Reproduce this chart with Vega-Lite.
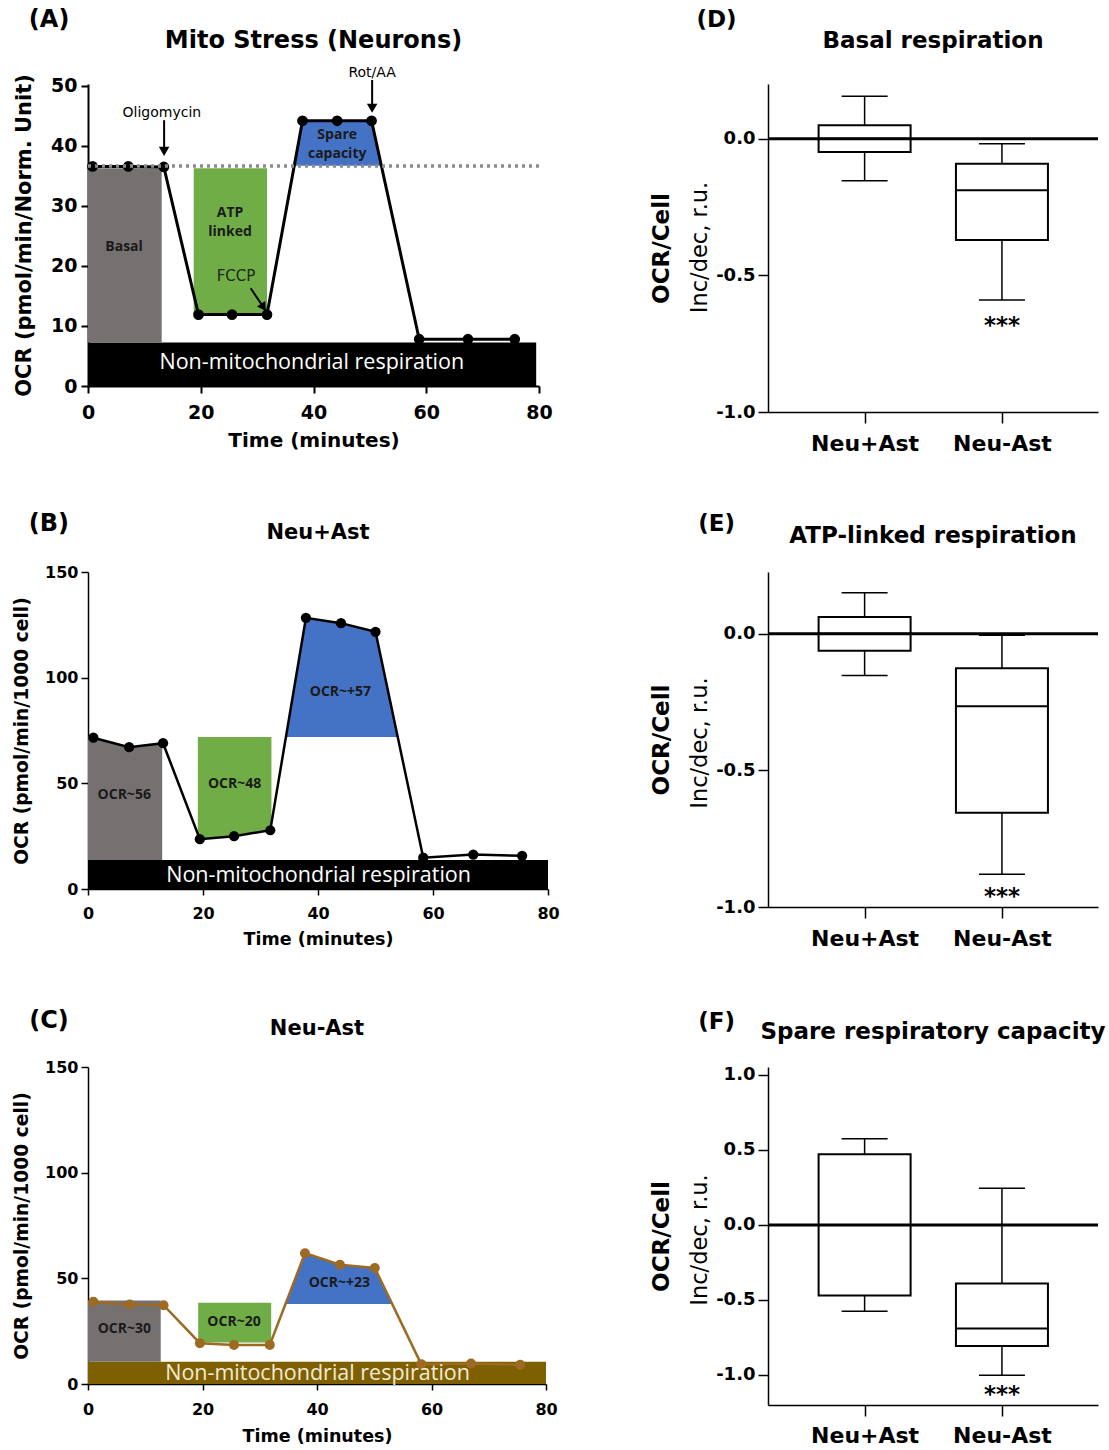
{
"$schema":"https://vega.github.io/schema/vega-lite/v6.json",
"background":"white",
"padding":{"left":12,"top":7,"right":5,"bottom":5},
"autosize":{"type":"pad"},
"config":{
  "view":{"stroke":null},
  "font":"DejaVu Sans",
  "axis":{"grid":false,"zindex":1,"labelFlush":false,"labelOverlap":false,"domainColor":"#000000","tickColor":"#000000","labelColor":"#000000","titleColor":"#000000","labelFont":"DejaVu Sans","titleFont":"DejaVu Sans","labelFontWeight":"bold","titleFontWeight":"bold"},
  "title":{"font":"DejaVu Sans","fontWeight":"bold","color":"#000000","frame":"group"}
},
"datasets":{
  "lineA":[{"time":0.8,"ocr":36.6},{"time":7.15,"ocr":36.6},{"time":13.45,"ocr":36.5},{"time":19.6,"ocr":11.9},{"time":25.55,"ocr":11.9},{"time":31.75,"ocr":11.9},{"time":38.05,"ocr":44.2},{"time":44.2,"ocr":44.2},{"time":50.3,"ocr":44.2},{"time":58.75,"ocr":7.8},{"time":67.4,"ocr":7.8},{"time":75.7,"ocr":7.8}],
  "lineB":[{"time":0.93,"ocr":71.6},{"time":7.15,"ocr":67.1},{"time":13.05,"ocr":69.0},{"time":19.45,"ocr":23.6},{"time":25.4,"ocr":25.0},{"time":31.7,"ocr":27.8},{"time":37.9,"ocr":128.3},{"time":44.0,"ocr":125.8},{"time":50.0,"ocr":121.7},{"time":58.3,"ocr":14.8},{"time":67.0,"ocr":16.3},{"time":75.5,"ocr":15.7}],
  "lineC":[{"time":0.93,"ocr":38.9},{"time":7.3,"ocr":37.6},{"time":13.2,"ocr":37.3},{"time":19.55,"ocr":19.3},{"time":25.5,"ocr":18.5},{"time":31.75,"ocr":18.5},{"time":37.9,"ocr":61.9},{"time":44.0,"ocr":56.4},{"time":50.1,"ocr":54.9},{"time":58.2,"ocr":9.4},{"time":66.9,"ocr":9.7},{"time":75.5,"ocr":9.1}],
  "boxD":[{"group":1,"name":"Neu+Ast","lower":-0.154,"q1":-0.049,"median":0,"q3":0.049,"upper":0.155},{"group":2,"name":"Neu-Ast","lower":-0.59,"q1":-0.371,"median":-0.189,"q3":-0.092,"upper":-0.019}],
  "boxE":[{"group":1,"name":"Neu+Ast","lower":-0.153,"q1":-0.062,"median":0,"q3":0.061,"upper":0.15},{"group":2,"name":"Neu-Ast","lower":-0.88,"q1":-0.655,"median":-0.265,"q3":-0.126,"upper":-0.006}],
  "boxF":[{"group":1,"name":"Neu+Ast","lower":-0.575,"q1":-0.47,"median":0,"q3":0.472,"upper":0.575},{"group":2,"name":"Neu-Ast","lower":-1.002,"q1":-0.806,"median":-0.69,"q3":-0.39,"upper":0.245}]
},
"columns":2,
"align":"each",
"bounds":"flush",
"spacing":{"row":160,"column":220},
"concat":[
{
 "width":451,"height":302,
 "title":{"text":"Mito Stress (Neurons)","fontSize":24,"offset":-45},
 "layer":[
  {"data":{"values":[{"start":0,"end":79.5,"low":0,"high":7.25}]},"mark":{"type":"rect","color":"#000000"},
   "encoding":{"x":{"field":"start","type":"quantitative","scale":{"domain":[0,80],"nice":false,"zero":false},"axis":{"title":"Time (minutes)","values":[0,20,40,60,80],"labelFontSize":19,"titleFontSize":20,"tickSize":7,"labelPadding":10,"titleY":54,"titleBaseline":"middle","domainWidth":2,"tickWidth":2}},"x2":{"field":"end"},
     "y":{"field":"low","type":"quantitative","scale":{"domain":[0,50.33],"nice":false,"zero":false},"axis":{"title":"OCR (pmol/min/Norm. Unit)","values":[0,10,20,30,40,50],"labelFontSize":19,"titleFontSize":21,"tickSize":7,"labelPadding":4,"titleX":-64,"titleBaseline":"middle","domainWidth":2,"tickWidth":2}},"y2":{"field":"high"}}},
  {"data":{"values":[{"start":0,"end":13.07,"low":7.25,"high":36.3}]},"mark":{"type":"rect","color":"#767171"},
   "encoding":{"x":{"field":"start","type":"quantitative","scale":{"domain":[0,80],"nice":false,"zero":false}},"x2":{"field":"end"},"y":{"field":"low","type":"quantitative","scale":{"domain":[0,50.33],"nice":false,"zero":false}},"y2":{"field":"high"}}},
  {"data":{"values":[{"start":18.75,"end":31.75,"low":11.9,"high":36.3}]},"mark":{"type":"rect","color":"#70AD47"},
   "encoding":{"x":{"field":"start","type":"quantitative","scale":{"domain":[0,80],"nice":false,"zero":false}},"x2":{"field":"end"},"y":{"field":"low","type":"quantitative","scale":{"domain":[0,50.33],"nice":false,"zero":false}},"y2":{"field":"high"}}},
  {"data":{"values":[{"time":36.6,"ocr":36.7,"base":36.7},{"time":38.05,"ocr":44.2,"base":36.7},{"time":44.2,"ocr":44.2,"base":36.7},{"time":50.3,"ocr":44.2,"base":36.7},{"time":52.0,"ocr":36.7,"base":36.7}]},"mark":{"type":"area","color":"#4472C4","opacity":1},
   "encoding":{"x":{"field":"time","type":"quantitative","scale":{"domain":[0,80],"nice":false,"zero":false}},"y":{"field":"ocr","type":"quantitative","scale":{"domain":[0,50.33],"nice":false,"zero":false}},"y2":{"field":"base"}}},
  {"data":{"name":"lineA"},"mark":{"type":"line","color":"#000000","strokeWidth":3},
   "encoding":{"x":{"field":"time","type":"quantitative","scale":{"domain":[0,80],"nice":false,"zero":false}},"y":{"field":"ocr","type":"quantitative","scale":{"domain":[0,50.33],"nice":false,"zero":false}}}},
  {"data":{"name":"lineA"},"mark":{"type":"point","filled":true,"color":"#000000","size":115,"opacity":1},
   "encoding":{"x":{"field":"time","type":"quantitative","scale":{"domain":[0,80],"nice":false,"zero":false}},"y":{"field":"ocr","type":"quantitative","scale":{"domain":[0,50.33],"nice":false,"zero":false}}}},
  {"data":{"values":[{"start":0,"end":80,"ocr":36.65}]},"mark":{"type":"rule","color":"#8C8C8C","strokeWidth":3.5,"strokeDash":[3,4]},
   "encoding":{"x":{"field":"start","type":"quantitative","scale":{"domain":[0,80],"nice":false,"zero":false}},"x2":{"field":"end"},"y":{"field":"ocr","type":"quantitative","scale":{"domain":[0,50.33],"nice":false,"zero":false}}}},
  {"data":{"values":[{"label":"Basal","time":6.4,"ocr":23.2},{"label":"ATP\nlinked","time":25.2,"ocr":28.8},{"label":"Spare\ncapacity","time":44.2,"ocr":41.8}]},"mark":{"type":"text","font":"Open Sans","fontWeight":"bold","fontSize":14,"color":"#1A1A1A","lineBreak":"\n","lineHeight":18.5,"baseline":"middle"},
   "encoding":{"x":{"field":"time","type":"quantitative","scale":{"domain":[0,80],"nice":false,"zero":false}},"y":{"field":"ocr","type":"quantitative","scale":{"domain":[0,50.33],"nice":false,"zero":false}},"text":{"field":"label"}}},
  {"data":{"values":[{"label":"Non-mitochondrial respiration","time":39.7,"ocr":3.75}]},"mark":{"type":"text","font":"Open Sans","fontSize":21.5,"color":"#FFFFFF","baseline":"middle"},
   "encoding":{"x":{"field":"time","type":"quantitative","scale":{"domain":[0,80],"nice":false,"zero":false}},"y":{"field":"ocr","type":"quantitative","scale":{"domain":[0,50.33],"nice":false,"zero":false}},"text":{"field":"label"}}},
  {"data":{"values":[{"time":13.5,"from":44.3,"to":39.2},{"time":50.4,"from":51.0,"to":46.4},{"time":28.86,"from":16.28,"time2":31.0,"to":13.3}]},"mark":{"type":"rule","color":"#000000","strokeWidth":2},
   "encoding":{"x":{"field":"time","type":"quantitative","scale":{"domain":[0,80],"nice":false,"zero":false}},"x2":{"field":"time2"},"y":{"field":"from","type":"quantitative","scale":{"domain":[0,50.33],"nice":false,"zero":false}},"y2":{"field":"to"}}},
  {"data":{"values":[{"time":13.5,"ocr":39.1},{"time":50.4,"ocr":46.3}]},"mark":{"type":"point","shape":"triangle-down","filled":true,"color":"#000000","size":110,"opacity":1},
   "encoding":{"x":{"field":"time","type":"quantitative","scale":{"domain":[0,80],"nice":false,"zero":false}},"y":{"field":"ocr","type":"quantitative","scale":{"domain":[0,50.33],"nice":false,"zero":false}}}},
  {"data":{"values":[{"time":31.13,"ocr":13.1}]},"mark":{"type":"point","shape":"triangle-down","filled":true,"color":"#000000","size":100,"opacity":1,"angle":326},
   "encoding":{"x":{"field":"time","type":"quantitative","scale":{"domain":[0,80],"nice":false,"zero":false}},"y":{"field":"ocr","type":"quantitative","scale":{"domain":[0,50.33],"nice":false,"zero":false}}}},
  {"data":{"values":[{"label":"Oligomycin","time":13.1,"ocr":45.5},{"label":"Rot/AA","time":50.4,"ocr":52.2}]},"mark":{"type":"text","font":"DejaVu Sans","fontSize":14,"color":"#000000","baseline":"middle"},
   "encoding":{"x":{"field":"time","type":"quantitative","scale":{"domain":[0,80],"nice":false,"zero":false}},"y":{"field":"ocr","type":"quantitative","scale":{"domain":[0,50.33],"nice":false,"zero":false}},"text":{"field":"label"}}},
  {"data":{"values":[{"label":"FCCP","time":26.25,"ocr":18.3}]},"mark":{"type":"text","font":"DejaVu Sans","fontSize":15,"color":"#1D2A14","baseline":"middle"},
   "encoding":{"x":{"field":"time","type":"quantitative","scale":{"domain":[0,80],"nice":false,"zero":false}},"y":{"field":"ocr","type":"quantitative","scale":{"domain":[0,50.33],"nice":false,"zero":false}},"text":{"field":"label"}}},
  {"data":{"values":[{"label":"(A)","time":-6.9,"ocr":61}]},"mark":{"type":"text","font":"DejaVu Sans","fontWeight":"bold","fontSize":24,"color":"#000000","baseline":"middle"},
   "encoding":{"x":{"field":"time","type":"quantitative","scale":{"domain":[0,80],"nice":false,"zero":false}},"y":{"field":"ocr","type":"quantitative","scale":{"domain":[0,50.33],"nice":false,"zero":false}},"text":{"field":"label"}}}
 ]
},
{
 "width":330,"height":328,
 "title":{"text":"Basal respiration","fontSize":23,"offset":-44},
 "data":{"name":"boxD"},
 "layer":[
  {"mark":{"type":"rule","color":"#000000","strokeWidth":1.5},
   "encoding":{"x":{"field":"group","type":"quantitative","scale":{"domain":[0.333,2.663],"nice":false,"zero":false},"axis":{"title":null,"values":[1,2],"labelExpr":"datum.value == 1 ? 'Neu+Ast' : 'Neu-Ast'","labelFontSize":22,"tickSize":11,"labelPadding":10,"domainWidth":1.5,"tickWidth":1.5}},
     "y":{"field":"lower","type":"quantitative","scale":{"domain":[-1,0.2],"nice":false,"zero":false},"axis":{"title":"OCR/Cell","values":[-1,-0.5,0],"labelExpr":"datum.value == 1 ? '1.0' : datum.value == 0.5 ? '0.5' : datum.value == 0 ? '0.0' : datum.value == -0.5 ? '-0.5' : '-1.0'","labelFontSize":18,"titleFontSize":23,"tickSize":10,"labelPadding":3,"titleX":-107,"titleBaseline":"middle","domainWidth":1.5,"tickWidth":1.5}},"y2":{"field":"upper"}}},
  {"mark":{"type":"bar","orient":"vertical","size":92,"fill":"#FFFFFF","stroke":"#000000","strokeWidth":2,"opacity":1},
   "encoding":{"x":{"field":"group","type":"quantitative","scale":{"domain":[0.333,2.663],"nice":false,"zero":false}},"y":{"field":"q1","type":"quantitative","scale":{"domain":[-1,0.2],"nice":false,"zero":false}},"y2":{"field":"q3"}}},
  {"mark":{"type":"tick","orient":"horizontal","size":92,"thickness":2,"color":"#000000","opacity":1},
   "encoding":{"x":{"field":"group","type":"quantitative","scale":{"domain":[0.333,2.663],"nice":false,"zero":false}},"y":{"field":"median","type":"quantitative","scale":{"domain":[-1,0.2],"nice":false,"zero":false}}}},
  {"mark":{"type":"tick","orient":"horizontal","size":46,"thickness":1.5,"color":"#000000","opacity":1},
   "encoding":{"x":{"field":"group","type":"quantitative","scale":{"domain":[0.333,2.663],"nice":false,"zero":false}},"y":{"field":"lower","type":"quantitative","scale":{"domain":[-1,0.2],"nice":false,"zero":false}}}},
  {"mark":{"type":"tick","orient":"horizontal","size":46,"thickness":1.5,"color":"#000000","opacity":1},
   "encoding":{"x":{"field":"group","type":"quantitative","scale":{"domain":[0.333,2.663],"nice":false,"zero":false}},"y":{"field":"upper","type":"quantitative","scale":{"domain":[-1,0.2],"nice":false,"zero":false}}}},
  {"data":{"values":[{"ocr":0}]},"mark":{"type":"rule","color":"#000000","strokeWidth":3},
   "encoding":{"y":{"field":"ocr","type":"quantitative","scale":{"domain":[-1,0.2],"nice":false,"zero":false}}}},
  {"data":{"values":[{"label":"***","cat":2,"value":-0.685},{"label":"(D)","cat":-0.078,"value":0.434}]},"mark":{"type":"text","font":"DejaVu Sans","fontWeight":"bold","fontSize":23,"color":"#000000","baseline":"middle"},
   "encoding":{"x":{"field":"cat","type":"quantitative","scale":{"domain":[0.333,2.663],"nice":false,"zero":false}},"y":{"field":"value","type":"quantitative","scale":{"domain":[-1,0.2],"nice":false,"zero":false}},"text":{"field":"label"}}},
  {"data":{"values":[{"label":"Inc/dec, r.u.","cat":-0.198,"value":-0.398}]},"mark":{"type":"text","font":"DejaVu Sans","fontSize":22.5,"color":"#000000","baseline":"middle","angle":270},
   "encoding":{"x":{"field":"cat","type":"quantitative","scale":{"domain":[0.333,2.663],"nice":false,"zero":false}},"y":{"field":"value","type":"quantitative","scale":{"domain":[-1,0.2],"nice":false,"zero":false}},"text":{"field":"label"}}}
 ]
},
{
 "width":460,"height":317,
 "title":{"text":"Neu+Ast","fontSize":21,"offset":-31},
 "layer":[
  {"data":{"values":[{"start":0,"end":80,"low":0,"high":13.7}]},"mark":{"type":"rect","color":"#000000"},
   "encoding":{"x":{"field":"start","type":"quantitative","scale":{"domain":[0,80],"nice":false,"zero":false},"axis":{"title":"Time (minutes)","values":[0,20,40,60,80],"labelFontSize":16,"titleFontSize":17.5,"tickSize":6,"labelPadding":10,"titleY":50,"titleBaseline":"middle","domainWidth":1.5,"tickWidth":1.5}},"x2":{"field":"end"},
     "y":{"field":"low","type":"quantitative","scale":{"domain":[0,150],"nice":false,"zero":false},"axis":{"title":"OCR (pmol/min/1000 cell)","values":[0,50,100,150],"labelFontSize":16,"titleFontSize":18.7,"tickSize":7,"labelPadding":3,"titleX":-67,"titleBaseline":"middle","domainWidth":1.5,"tickWidth":1.5}},"y2":{"field":"high"}}},
  {"data":{"values":[{"time":0,"ocr":72.3,"base":13.7},{"time":0.93,"ocr":71.6,"base":13.7},{"time":7.15,"ocr":67.1,"base":13.7},{"time":12.9,"ocr":68.9,"base":13.7}]},"mark":{"type":"area","color":"#767171","opacity":1},
   "encoding":{"x":{"field":"time","type":"quantitative","scale":{"domain":[0,80],"nice":false,"zero":false}},"y":{"field":"ocr","type":"quantitative","scale":{"domain":[0,150],"nice":false,"zero":false}},"y2":{"field":"base"}}},
  {"data":{"values":[{"time":19.1,"ocr":26.1,"top":71.9},{"time":19.45,"ocr":23.6,"top":71.9},{"time":25.4,"ocr":25.0,"top":71.9},{"time":31.7,"ocr":27.8,"top":71.9},{"time":31.9,"ocr":31.0,"top":71.9}]},"mark":{"type":"area","color":"#70AD47","opacity":1},
   "encoding":{"x":{"field":"time","type":"quantitative","scale":{"domain":[0,80],"nice":false,"zero":false}},"y":{"field":"ocr","type":"quantitative","scale":{"domain":[0,150],"nice":false,"zero":false}},"y2":{"field":"top"}}},
  {"data":{"values":[{"time":34.4,"ocr":71.9,"base":71.9},{"time":37.9,"ocr":128.3,"base":71.9},{"time":44.0,"ocr":125.8,"base":71.9},{"time":50.0,"ocr":121.7,"base":71.9},{"time":53.9,"ocr":71.9,"base":71.9}]},"mark":{"type":"area","color":"#4472C4","opacity":1},
   "encoding":{"x":{"field":"time","type":"quantitative","scale":{"domain":[0,80],"nice":false,"zero":false}},"y":{"field":"ocr","type":"quantitative","scale":{"domain":[0,150],"nice":false,"zero":false}},"y2":{"field":"base"}}},
  {"data":{"name":"lineB"},"mark":{"type":"line","color":"#000000","strokeWidth":2.5},
   "encoding":{"x":{"field":"time","type":"quantitative","scale":{"domain":[0,80],"nice":false,"zero":false}},"y":{"field":"ocr","type":"quantitative","scale":{"domain":[0,150],"nice":false,"zero":false}}}},
  {"data":{"name":"lineB"},"mark":{"type":"point","filled":true,"color":"#000000","size":105,"opacity":1},
   "encoding":{"x":{"field":"time","type":"quantitative","scale":{"domain":[0,80],"nice":false,"zero":false}},"y":{"field":"ocr","type":"quantitative","scale":{"domain":[0,150],"nice":false,"zero":false}}}},
  {"data":{"values":[{"label":"OCR~56","time":6.3,"ocr":44.6},{"label":"OCR~48","time":25.5,"ocr":49.5},{"label":"OCR~+57","time":43.9,"ocr":93.4}]},"mark":{"type":"text","font":"Open Sans","fontWeight":"bold","fontSize":14,"color":"#1A1A1A","baseline":"middle"},
   "encoding":{"x":{"field":"time","type":"quantitative","scale":{"domain":[0,80],"nice":false,"zero":false}},"y":{"field":"ocr","type":"quantitative","scale":{"domain":[0,150],"nice":false,"zero":false}},"text":{"field":"label"}}},
  {"data":{"values":[{"label":"Non-mitochondrial respiration","time":40.1,"ocr":6.2}]},"mark":{"type":"text","font":"Open Sans","fontSize":21.5,"color":"#FFFFFF","baseline":"middle"},
   "encoding":{"x":{"field":"time","type":"quantitative","scale":{"domain":[0,80],"nice":false,"zero":false}},"y":{"field":"ocr","type":"quantitative","scale":{"domain":[0,150],"nice":false,"zero":false}},"text":{"field":"label"}}},
  {"data":{"values":[{"label":"(B)","time":-6.8,"ocr":172.7}]},"mark":{"type":"text","font":"DejaVu Sans","fontWeight":"bold","fontSize":24,"color":"#000000","baseline":"middle"},
   "encoding":{"x":{"field":"time","type":"quantitative","scale":{"domain":[0,80],"nice":false,"zero":false}},"y":{"field":"ocr","type":"quantitative","scale":{"domain":[0,150],"nice":false,"zero":false}},"text":{"field":"label"}}}
 ]
},
{
 "width":330,"height":335,
 "title":{"text":"ATP-linked respiration","fontSize":23,"offset":-35},
 "data":{"name":"boxE"},
 "layer":[
  {"mark":{"type":"rule","color":"#000000","strokeWidth":1.5},
   "encoding":{"x":{"field":"group","type":"quantitative","scale":{"domain":[0.333,2.663],"nice":false,"zero":false},"axis":{"title":null,"values":[1,2],"labelExpr":"datum.value == 1 ? 'Neu+Ast' : 'Neu-Ast'","labelFontSize":22,"tickSize":11,"labelPadding":10,"domainWidth":1.5,"tickWidth":1.5}},
     "y":{"field":"lower","type":"quantitative","scale":{"domain":[-1,0.2258],"nice":false,"zero":false},"axis":{"title":"OCR/Cell","values":[-1,-0.5,0],"labelExpr":"datum.value == 1 ? '1.0' : datum.value == 0.5 ? '0.5' : datum.value == 0 ? '0.0' : datum.value == -0.5 ? '-0.5' : '-1.0'","labelFontSize":18,"titleFontSize":23,"tickSize":10,"labelPadding":3,"titleX":-107,"titleBaseline":"middle","domainWidth":1.5,"tickWidth":1.5}},"y2":{"field":"upper"}}},
  {"mark":{"type":"bar","orient":"vertical","size":92,"fill":"#FFFFFF","stroke":"#000000","strokeWidth":2,"opacity":1},
   "encoding":{"x":{"field":"group","type":"quantitative","scale":{"domain":[0.333,2.663],"nice":false,"zero":false}},"y":{"field":"q1","type":"quantitative","scale":{"domain":[-1,0.2258],"nice":false,"zero":false}},"y2":{"field":"q3"}}},
  {"mark":{"type":"tick","orient":"horizontal","size":92,"thickness":2,"color":"#000000","opacity":1},
   "encoding":{"x":{"field":"group","type":"quantitative","scale":{"domain":[0.333,2.663],"nice":false,"zero":false}},"y":{"field":"median","type":"quantitative","scale":{"domain":[-1,0.2258],"nice":false,"zero":false}}}},
  {"mark":{"type":"tick","orient":"horizontal","size":46,"thickness":1.5,"color":"#000000","opacity":1},
   "encoding":{"x":{"field":"group","type":"quantitative","scale":{"domain":[0.333,2.663],"nice":false,"zero":false}},"y":{"field":"lower","type":"quantitative","scale":{"domain":[-1,0.2258],"nice":false,"zero":false}}}},
  {"mark":{"type":"tick","orient":"horizontal","size":46,"thickness":1.5,"color":"#000000","opacity":1},
   "encoding":{"x":{"field":"group","type":"quantitative","scale":{"domain":[0.333,2.663],"nice":false,"zero":false}},"y":{"field":"upper","type":"quantitative","scale":{"domain":[-1,0.2258],"nice":false,"zero":false}}}},
  {"data":{"values":[{"ocr":0}]},"mark":{"type":"rule","color":"#000000","strokeWidth":3},
   "encoding":{"y":{"field":"ocr","type":"quantitative","scale":{"domain":[-1,0.2258],"nice":false,"zero":false}}}},
  {"data":{"values":[{"label":"***","cat":2,"value":-0.965},{"label":"(E)","cat":-0.078,"value":0.401}]},"mark":{"type":"text","font":"DejaVu Sans","fontWeight":"bold","fontSize":23,"color":"#000000","baseline":"middle"},
   "encoding":{"x":{"field":"cat","type":"quantitative","scale":{"domain":[0.333,2.663],"nice":false,"zero":false}},"y":{"field":"value","type":"quantitative","scale":{"domain":[-1,0.2258],"nice":false,"zero":false}},"text":{"field":"label"}}},
  {"data":{"values":[{"label":"Inc/dec, r.u.","cat":-0.198,"value":-0.4}]},"mark":{"type":"text","font":"DejaVu Sans","fontSize":22.5,"color":"#000000","baseline":"middle","angle":270},
   "encoding":{"x":{"field":"cat","type":"quantitative","scale":{"domain":[0.333,2.663],"nice":false,"zero":false}},"y":{"field":"value","type":"quantitative","scale":{"domain":[-1,0.2258],"nice":false,"zero":false}},"text":{"field":"label"}}}
 ]
},
{
 "width":458,"height":317,
 "title":{"text":"Neu-Ast","fontSize":21,"offset":-30},
 "layer":[
  {"data":{"values":[{"start":0,"end":80,"low":0,"high":10.5}]},"mark":{"type":"rect","color":"#7F6000"},
   "encoding":{"x":{"field":"start","type":"quantitative","scale":{"domain":[0,80],"nice":false,"zero":false},"axis":{"title":"Time (minutes)","values":[0,20,40,60,80],"labelFontSize":16,"titleFontSize":17.5,"tickSize":6,"labelPadding":11,"titleY":52,"titleBaseline":"middle","domainWidth":1.5,"tickWidth":1.5}},"x2":{"field":"end"},
     "y":{"field":"low","type":"quantitative","scale":{"domain":[0,150],"nice":false,"zero":false},"axis":{"title":"OCR (pmol/min/1000 cell)","values":[0,50,100,150],"labelFontSize":16,"titleFontSize":18.7,"tickSize":7,"labelPadding":3,"titleX":-67,"titleBaseline":"middle","domainWidth":1.5,"tickWidth":1.5}},"y2":{"field":"high"}}},
  {"data":{"values":[{"start":0,"end":12.7,"low":10.5,"high":39.5}]},"mark":{"type":"rect","color":"#767171"},
   "encoding":{"x":{"field":"start","type":"quantitative","scale":{"domain":[0,80],"nice":false,"zero":false}},"x2":{"field":"end"},"y":{"field":"low","type":"quantitative","scale":{"domain":[0,150],"nice":false,"zero":false}},"y2":{"field":"high"}}},
  {"data":{"values":[{"start":19.25,"end":32.0,"low":19.6,"high":38.4}]},"mark":{"type":"rect","color":"#70AD47"},
   "encoding":{"x":{"field":"start","type":"quantitative","scale":{"domain":[0,80],"nice":false,"zero":false}},"x2":{"field":"end"},"y":{"field":"low","type":"quantitative","scale":{"domain":[0,150],"nice":false,"zero":false}},"y2":{"field":"high"}}},
  {"data":{"values":[{"time":34.5,"ocr":37.9,"base":37.9},{"time":37.9,"ocr":61.9,"base":37.9},{"time":44.0,"ocr":56.4,"base":37.9},{"time":50.1,"ocr":54.9,"base":37.9},{"time":53.1,"ocr":37.9,"base":37.9}]},"mark":{"type":"area","color":"#4472C4","opacity":1},
   "encoding":{"x":{"field":"time","type":"quantitative","scale":{"domain":[0,80],"nice":false,"zero":false}},"y":{"field":"ocr","type":"quantitative","scale":{"domain":[0,150],"nice":false,"zero":false}},"y2":{"field":"base"}}},
  {"data":{"name":"lineC"},"mark":{"type":"line","color":"#9C6A22","strokeWidth":2.5},
   "encoding":{"x":{"field":"time","type":"quantitative","scale":{"domain":[0,80],"nice":false,"zero":false}},"y":{"field":"ocr","type":"quantitative","scale":{"domain":[0,150],"nice":false,"zero":false}}}},
  {"data":{"name":"lineC"},"mark":{"type":"point","filled":true,"color":"#9C6A22","size":100,"opacity":1},
   "encoding":{"x":{"field":"time","type":"quantitative","scale":{"domain":[0,80],"nice":false,"zero":false}},"y":{"field":"ocr","type":"quantitative","scale":{"domain":[0,150],"nice":false,"zero":false}}}},
  {"data":{"values":[{"label":"OCR~30","time":6.35,"ocr":26.2},{"label":"OCR~20","time":25.5,"ocr":29.5},{"label":"OCR~+23","time":43.9,"ocr":47.8}]},"mark":{"type":"text","font":"Open Sans","fontWeight":"bold","fontSize":14,"color":"#1A1A1A","baseline":"middle"},
   "encoding":{"x":{"field":"time","type":"quantitative","scale":{"domain":[0,80],"nice":false,"zero":false}},"y":{"field":"ocr","type":"quantitative","scale":{"domain":[0,150],"nice":false,"zero":false}},"text":{"field":"label"}}},
  {"data":{"values":[{"label":"Non-mitochondrial respiration","time":40.1,"ocr":4.7}]},"mark":{"type":"text","font":"Open Sans","fontSize":21.5,"color":"#F3EBD9","baseline":"middle"},
   "encoding":{"x":{"field":"time","type":"quantitative","scale":{"domain":[0,80],"nice":false,"zero":false}},"y":{"field":"ocr","type":"quantitative","scale":{"domain":[0,150],"nice":false,"zero":false}},"text":{"field":"label"}}},
  {"data":{"values":[{"label":"(C)","time":-6.8,"ocr":171.8}]},"mark":{"type":"text","font":"DejaVu Sans","fontWeight":"bold","fontSize":24,"color":"#000000","baseline":"middle"},
   "encoding":{"x":{"field":"time","type":"quantitative","scale":{"domain":[0,80],"nice":false,"zero":false}},"y":{"field":"ocr","type":"quantitative","scale":{"domain":[0,150],"nice":false,"zero":false}},"text":{"field":"label"}}}
 ]
},
{
 "width":330,"height":338,
 "title":{"text":"Spare respiratory capacity","fontSize":23,"offset":-33},
 "data":{"name":"boxF"},
 "layer":[
  {"mark":{"type":"rule","color":"#000000","strokeWidth":1.5},
   "encoding":{"x":{"field":"group","type":"quantitative","scale":{"domain":[0.333,2.663],"nice":false,"zero":false},"axis":{"title":null,"values":[1,2],"labelExpr":"datum.value == 1 ? 'Neu+Ast' : 'Neu-Ast'","labelFontSize":22,"tickSize":11,"labelPadding":9,"domainWidth":1.5,"tickWidth":1.5}},
     "y":{"field":"lower","type":"quantitative","scale":{"domain":[-1.2,1.0533],"nice":false,"zero":false},"axis":{"title":"OCR/Cell","values":[-1,-0.5,0,0.5,1],"labelExpr":"datum.value == 1 ? '1.0' : datum.value == 0.5 ? '0.5' : datum.value == 0 ? '0.0' : datum.value == -0.5 ? '-0.5' : '-1.0'","labelFontSize":18,"titleFontSize":23,"tickSize":10,"labelPadding":3,"titleX":-107,"titleBaseline":"middle","domainWidth":1.5,"tickWidth":1.5}},"y2":{"field":"upper"}}},
  {"mark":{"type":"bar","orient":"vertical","size":92,"fill":"#FFFFFF","stroke":"#000000","strokeWidth":2,"opacity":1},
   "encoding":{"x":{"field":"group","type":"quantitative","scale":{"domain":[0.333,2.663],"nice":false,"zero":false}},"y":{"field":"q1","type":"quantitative","scale":{"domain":[-1.2,1.0533],"nice":false,"zero":false}},"y2":{"field":"q3"}}},
  {"mark":{"type":"tick","orient":"horizontal","size":92,"thickness":2,"color":"#000000","opacity":1},
   "encoding":{"x":{"field":"group","type":"quantitative","scale":{"domain":[0.333,2.663],"nice":false,"zero":false}},"y":{"field":"median","type":"quantitative","scale":{"domain":[-1.2,1.0533],"nice":false,"zero":false}}}},
  {"mark":{"type":"tick","orient":"horizontal","size":46,"thickness":1.5,"color":"#000000","opacity":1},
   "encoding":{"x":{"field":"group","type":"quantitative","scale":{"domain":[0.333,2.663],"nice":false,"zero":false}},"y":{"field":"lower","type":"quantitative","scale":{"domain":[-1.2,1.0533],"nice":false,"zero":false}}}},
  {"mark":{"type":"tick","orient":"horizontal","size":46,"thickness":1.5,"color":"#000000","opacity":1},
   "encoding":{"x":{"field":"group","type":"quantitative","scale":{"domain":[0.333,2.663],"nice":false,"zero":false}},"y":{"field":"upper","type":"quantitative","scale":{"domain":[-1.2,1.0533],"nice":false,"zero":false}}}},
  {"data":{"values":[{"ocr":0}]},"mark":{"type":"rule","color":"#000000","strokeWidth":3},
   "encoding":{"y":{"field":"ocr","type":"quantitative","scale":{"domain":[-1.2,1.0533],"nice":false,"zero":false}}}},
  {"data":{"values":[{"label":"***","cat":2,"value":-1.133},{"label":"(F)","cat":-0.078,"value":1.353}]},"mark":{"type":"text","font":"DejaVu Sans","fontWeight":"bold","fontSize":23,"color":"#000000","baseline":"middle"},
   "encoding":{"x":{"field":"cat","type":"quantitative","scale":{"domain":[0.333,2.663],"nice":false,"zero":false}},"y":{"field":"value","type":"quantitative","scale":{"domain":[-1.2,1.0533],"nice":false,"zero":false}},"text":{"field":"label"}}},
  {"data":{"values":[{"label":"Inc/dec, r.u.","cat":-0.198,"value":-0.1}]},"mark":{"type":"text","font":"DejaVu Sans","fontSize":22.5,"color":"#000000","baseline":"middle","angle":270},
   "encoding":{"x":{"field":"cat","type":"quantitative","scale":{"domain":[0.333,2.663],"nice":false,"zero":false}},"y":{"field":"value","type":"quantitative","scale":{"domain":[-1.2,1.0533],"nice":false,"zero":false}},"text":{"field":"label"}}}
 ]
}
]
}
